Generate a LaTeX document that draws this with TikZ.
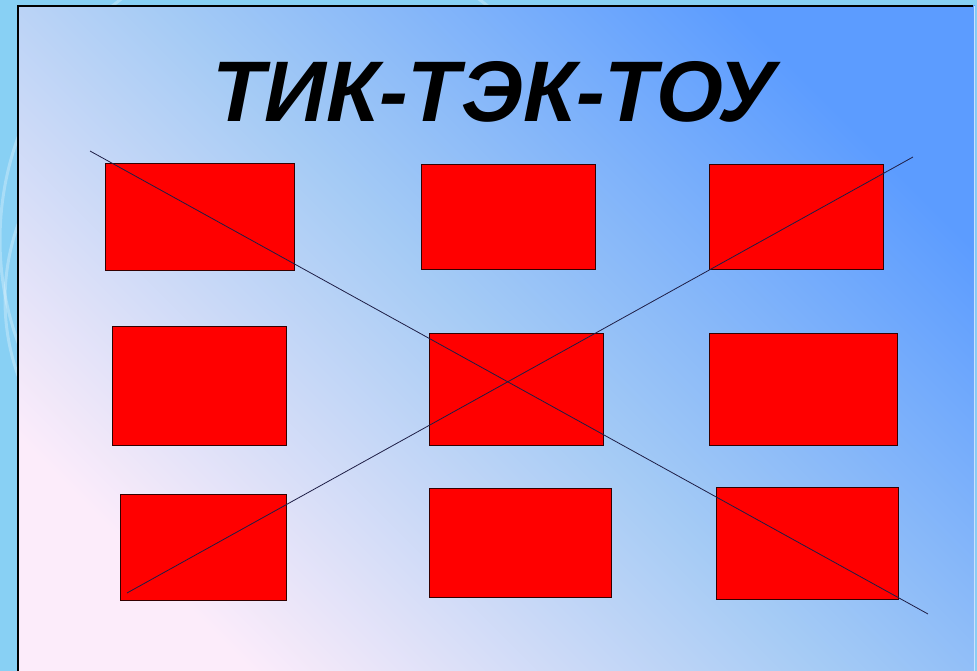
\documentclass[tikz,border=0pt]{standalone}
\usepackage{fontspec}
\newfontfamily\titlefont{Liberation Sans}
\definecolor{outerbg}{RGB}{136,208,244}
\definecolor{panelTR}{RGB}{92,156,255}
\definecolor{panelMid}{RGB}{165,203,245}
\definecolor{panelBL}{RGB}{252,236,250}
\definecolor{crossline}{RGB}{30,30,70}
\begin{document}
\begin{tikzpicture}[x=1pt,y=-1pt,
  cell/.style={draw=black!80!red, fill=red, line width=1pt, inner sep=0pt, outer sep=0pt, anchor=north west},
  cross/.style={draw=crossline, line width=0.8pt},
  deco/.style={draw=white, opacity=0.28, line width=3pt}]
\useasboundingbox (0,0) rectangle (977,671);
% outer background
\fill[outerbg] (0,0) rectangle (977,671);
\draw[deco] (230,300) circle[radius=225];
\draw[deco] (300,240) circle[radius=300];
% panel
\shade[top color=panelTR, bottom color=panelBL, middle color=panelMid, shading angle=-45] (18,6) rectangle (975,680);
\draw[white!70!panelTR, line width=1pt] (974,6) -- (974,680);
\draw[black, line width=1.2pt] (18,680) -- (18,6) -- (973,6);
% title
\node[anchor=base, inner sep=0pt] (title) at (494,122) {\titlefont\bfseries\itshape\fontsize{86}{92}\selectfont ТИК-ТЭК-ТОУ};
% cells
\path (105,164) node[cell, minimum width=189pt, minimum height=106pt] (r1) {};
\path (421,165) node[cell, minimum width=174pt, minimum height=104pt] (r2) {};
\path (709,165) node[cell, minimum width=174pt, minimum height=104pt] (r3) {};
\path (112,326) node[cell, minimum width=174pt, minimum height=119pt] (r4) {};
\path (429,333) node[cell, minimum width=174pt, minimum height=112pt] (r5) {};
\path (709,333) node[cell, minimum width=188pt, minimum height=112pt] (r6) {};
\path (120,494) node[cell, minimum width=166pt, minimum height=106pt] (r7) {};
\path (429,488) node[cell, minimum width=182pt, minimum height=109pt] (r8) {};
\path (716,487) node[cell, minimum width=182pt, minimum height=112pt] (r9) {};
% crossing lines
\coordinate (a1) at (90,151);
\coordinate (a2) at (928,614);
\coordinate (b1) at (127,593);
\coordinate (b2) at (913,157);
\draw[cross] (a1) -- (a2);
\draw[cross] (b1) -- (b2);
\end{tikzpicture}
\end{document}
